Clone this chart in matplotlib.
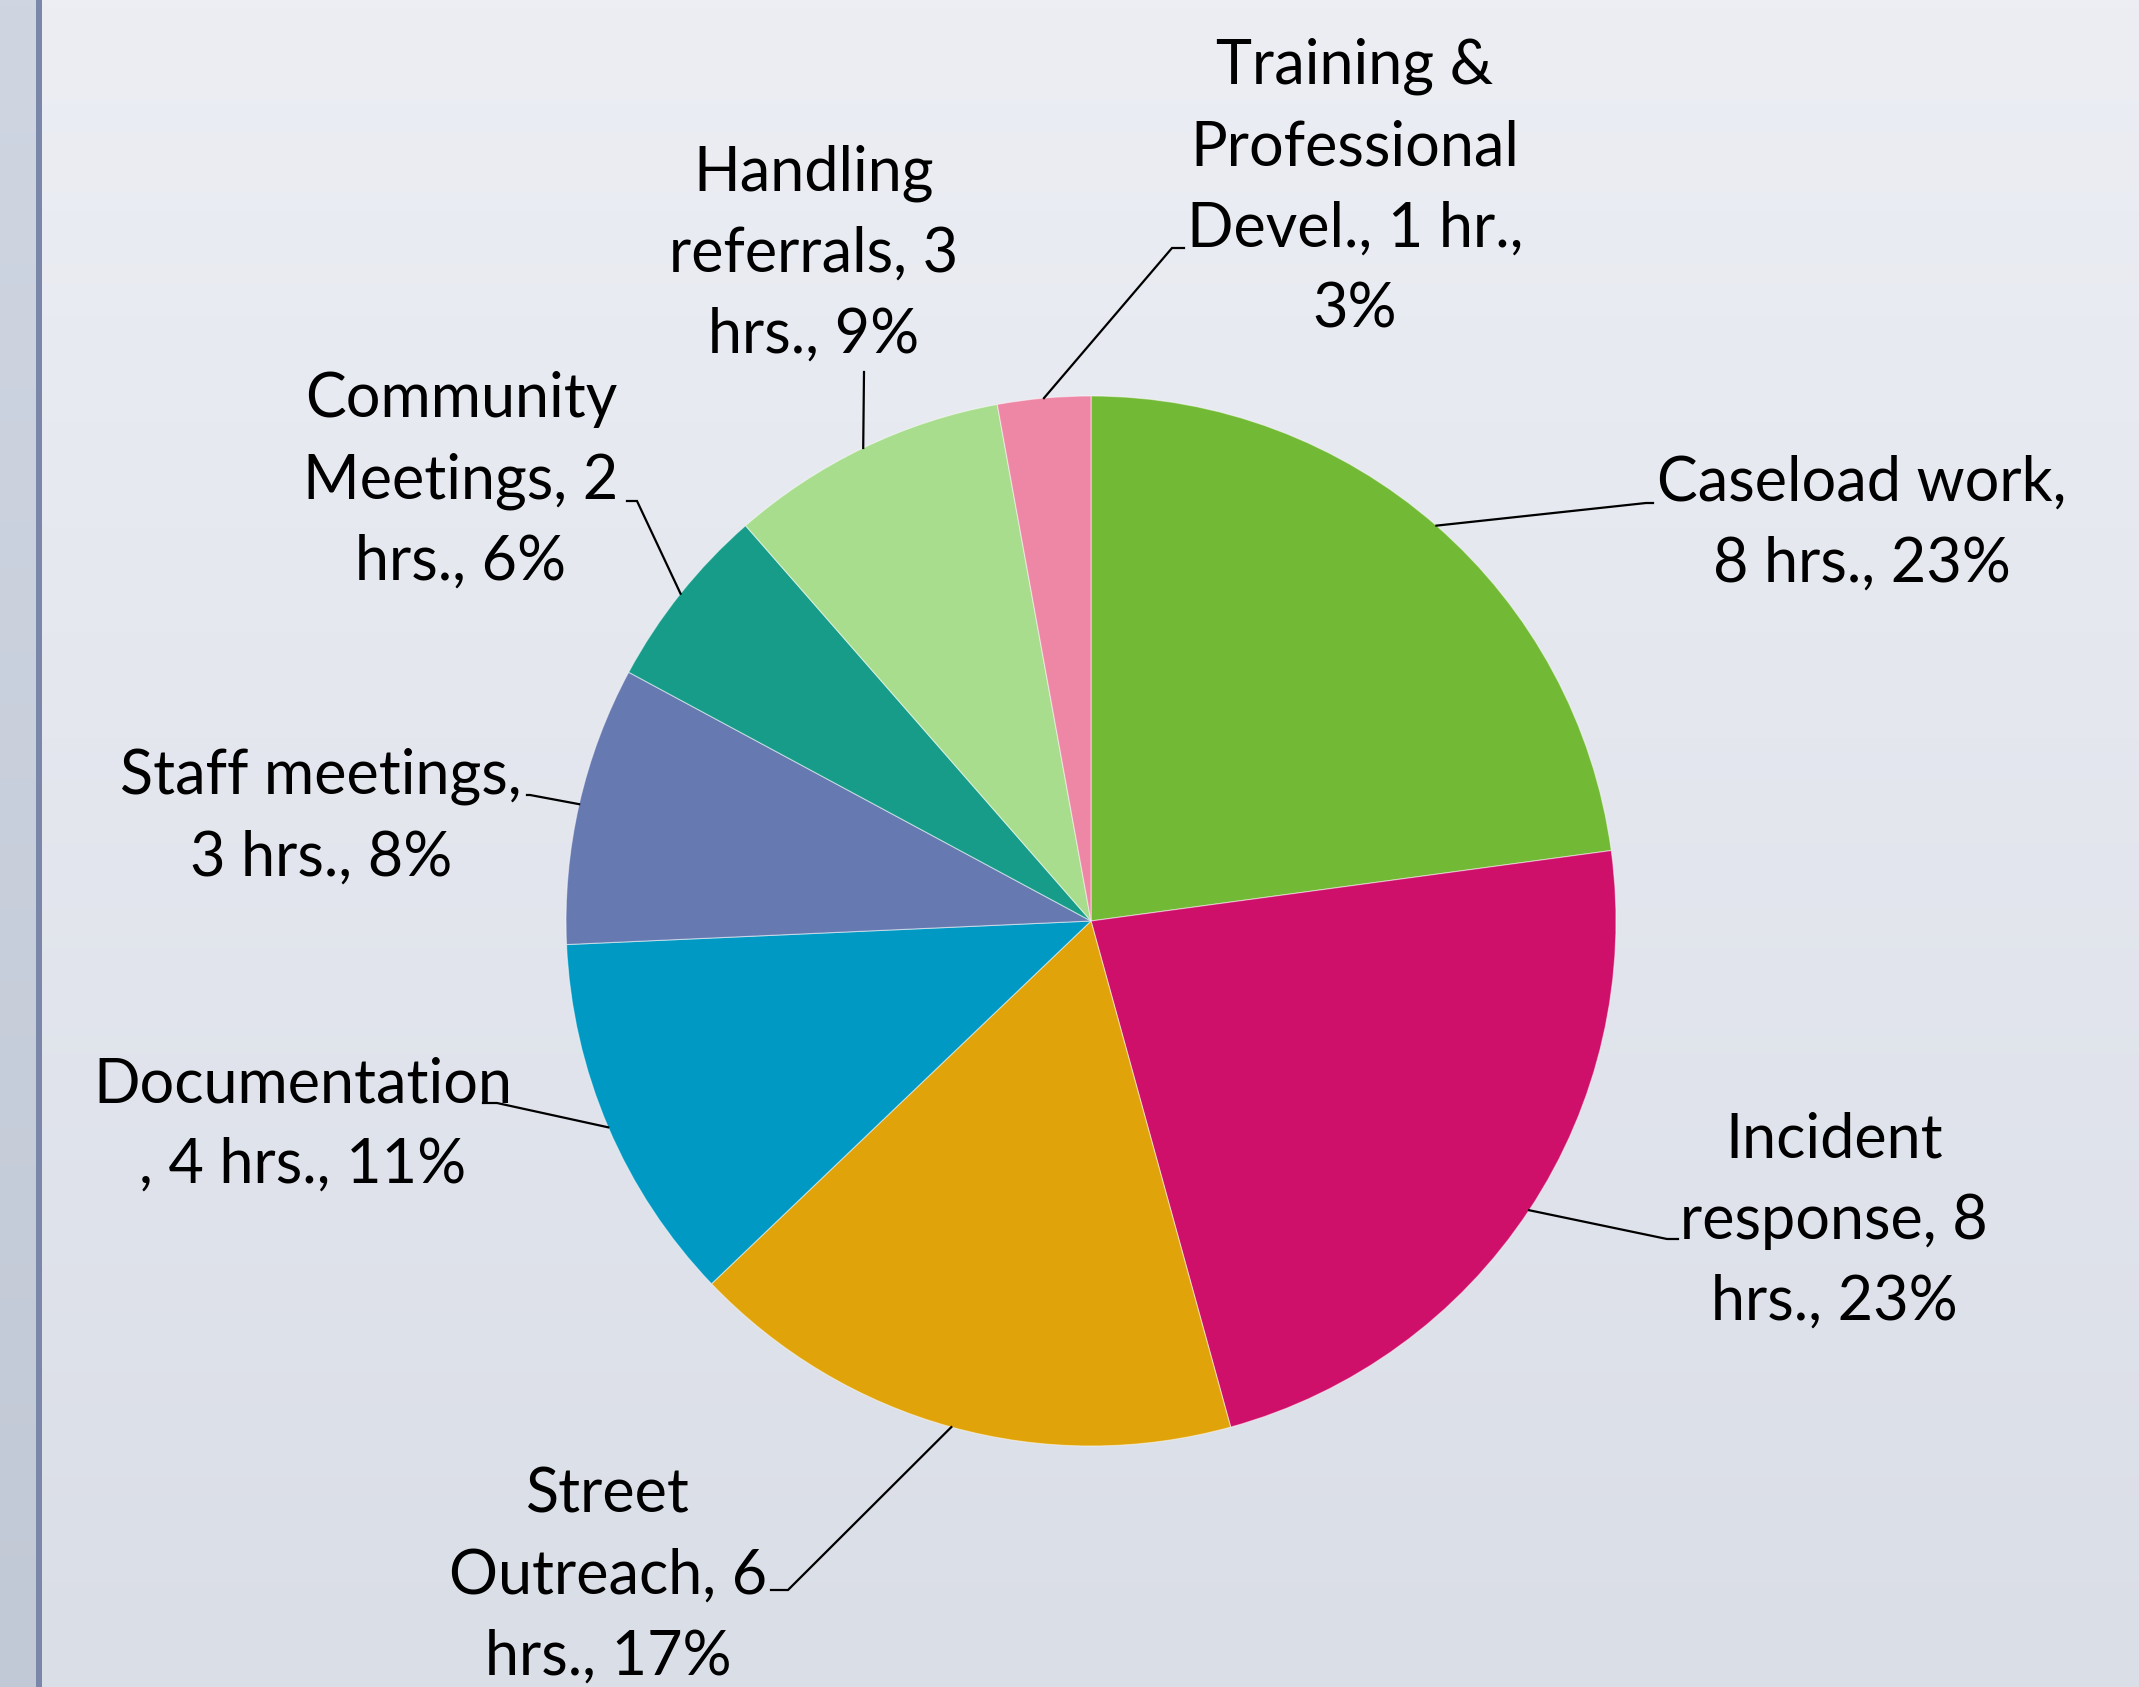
import numpy as np
import matplotlib
matplotlib.use("Agg")
import matplotlib.pyplot as plt
from matplotlib.patches import Rectangle

# ---- data ----
categories = ["Caseload work", "Incident response", "Street Outreach", "Documentation",
              "Staff meetings", "Community Meetings", "Handling referrals",
              "Training & Professional Devel."]
hours = [8, 8, 6, 4, 3, 2, 3, 1]
label_texts = [
    "Caseload work,\n8 hrs., 23%",
    "Incident\nresponse, 8\nhrs., 23%",
    "Street\nOutreach, 6\nhrs., 17%",
    "Documentation\n, 4 hrs., 11%",
    "Staff meetings,\n3 hrs., 8%",
    "Community\nMeetings, 2\nhrs., 6%",
    "Handling\nreferrals, 3\nhrs., 9%",
    "Training &\nProfessional\nDevel., 1 hr.,\n3%",
]
colors = ["#72b935", "#cf106a", "#e0a309", "#0099c4", "#6779b1", "#169c89", "#a8dd8d", "#ee87a6"]

# ---- layout (pixel coords, y from top) ----
W, H = 2139, 1687
cx, cy, R = 1091, 921, 525
label_pos = [(1862, 524), (1834, 1221), (608, 1576), (303, 1125),
             (321, 817), (461, 481), (814, 254), (1355, 188)]
# leader: bend point and end point near label
leader_bend = [(1646, 503), (1667, 1239), (788, 1590), (497, 1103),
               (530, 795), (637, 501), (864, 372), (1172, 248)]
leader_end = [(1653, 503), (1678, 1239), (771, 1590), (483, 1103),
              (527, 795), (627, 501), (864, 372), (1184, 248)]

def Y(y):
    return H - y

fig = plt.figure(figsize=(W / 100, H / 100), dpi=100)
ax = fig.add_axes([0, 0, 1, 1])
ax.set_xlim(0, W)
ax.set_ylim(0, H)
ax.set_aspect("equal")
ax.axis("off")

# background gradient
top = np.array([236, 238, 244]) / 255
bot = np.array([218, 222, 231]) / 255
t = np.linspace(0, 1, 256)[:, None]
grad = top[None, :] * (1 - t) + bot[None, :] * t
img = np.repeat(grad[:, None, :], 2, axis=1)
ax.imshow(img, extent=[0, W, 0, H], aspect="auto", zorder=0)

# left strip
stop = np.array([207, 214, 226]) / 255
sbot = np.array([194, 201, 214]) / 255
sgrad = stop[None, :] * (1 - t) + sbot[None, :] * t
ax.imshow(np.repeat(sgrad[:, None, :], 2, axis=1), extent=[0, 36, 0, H], aspect="auto", zorder=1)
ax.add_patch(Rectangle((36, 0), 6, H, color="#7a87a8", zorder=2, lw=0))
ax.set_xlim(0, W)
ax.set_ylim(0, H)

wedges, _ = ax.pie(hours, colors=colors, startangle=90, counterclock=False,
                   center=(cx, Y(cy)), radius=R,
                   wedgeprops=dict(edgecolor=(1, 1, 1, 0.5), linewidth=0.8))
for w in wedges:
    w.set_zorder(3)
ax.set_xlim(0, W)
ax.set_ylim(0, H)

total = sum(hours)
cum = 0.0
font = dict(family=["Lato", "DejaVu Sans"], size=44, color="black")
for i, v in enumerate(hours):
    mid = (cum + v / 2) / total
    cum += v
    theta = np.deg2rad(90 - 360 * mid)
    sx, sy = cx + R * np.cos(theta), Y(cy) + R * np.sin(theta)
    bx, by = leader_bend[i]
    ex, ey = leader_end[i]
    ax.plot([sx, bx, ex], [sy, Y(by), Y(ey)], color="black", lw=1.6, zorder=4,
            solid_joinstyle="miter")
    lx, ly = label_pos[i]
    ax.text(lx, Y(ly), label_texts[i], ha="center", va="center", multialignment="center",
            linespacing=1.52, zorder=5, **font)

fig.savefig("out.png", dpi=100)
